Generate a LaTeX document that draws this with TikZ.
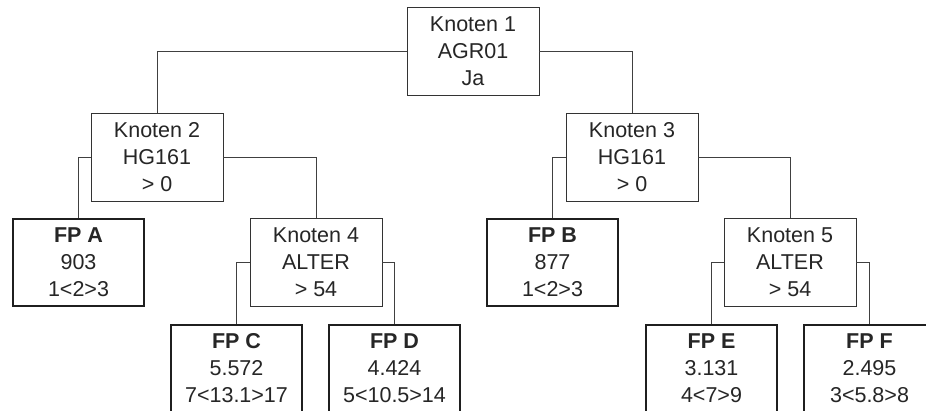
\documentclass[tikz,border=0pt]{standalone}
\usepackage{fontspec}
\setmainfont{Liberation Sans}
\begin{document}
\begin{tikzpicture}[x=1pt,y=1pt,
  every node/.style={font=\fontsize{21.5}{27}\selectfont, text=black!85, align=center, inner sep=0pt},
  inner/.style={draw=black!80, line width=0.9pt, minimum width=132pt, minimum height=88pt, fill=white},
  leaf/.style={draw=black!88, line width=2pt, minimum width=131pt, minimum height=87pt, fill=white},
  conn/.style={draw=black!75, line width=0.9pt}]
\useasboundingbox (0,0) rectangle (926,411);
\clip (0,0) rectangle (926,411);
\node[inner] (k1) at (473,360) {Knoten 1\\AGR01\\Ja};
\node[inner] (k2) at (157,254) {Knoten 2\\HG161\\> 0};
\node[inner] (k3) at (632,254) {Knoten 3\\HG161\\> 0};
\node[leaf] (fa) at (78.5,148.5) {\textbf{FP A}\\903\\1<2>3};
\node[inner] (k4) at (316,148.5) {Knoten 4\\ALTER\\> 54};
\node[leaf] (fb) at (552.5,148.5) {\textbf{FP B}\\877\\1<2>3};
\node[inner] (k5) at (790,148.5) {Knoten 5\\ALTER\\> 54};
\node[leaf] (fc) at (236.5,42.5) {\textbf{FP C}\\5.572\\7<13.1>17};
\node[leaf] (fd) at (394.5,42.5) {\textbf{FP D}\\4.424\\5<10.5>14};
\node[leaf] (fe) at (711.5,42.5) {\textbf{FP E}\\3.131\\4<7>9};
\node[leaf] (ff) at (869.5,42.5) {\textbf{FP F}\\2.495\\3<5.8>8};
\draw[conn] (k1.west) -| (k2.north);
\draw[conn] (k1.east) -| (k3.north);
\draw[conn] (k2.west) -| (fa.north);
\draw[conn] (k2.east) -| (k4.north);
\draw[conn] (k3.west) -| (fb.north);
\draw[conn] (k3.east) -| (k5.north);
\draw[conn] (k4.west) -| (fc.north);
\draw[conn] (k4.east) -| (fd.north);
\draw[conn] (k5.west) -| (fe.north);
\draw[conn] (k5.east) -| (ff.north);
\end{tikzpicture}
\end{document}
